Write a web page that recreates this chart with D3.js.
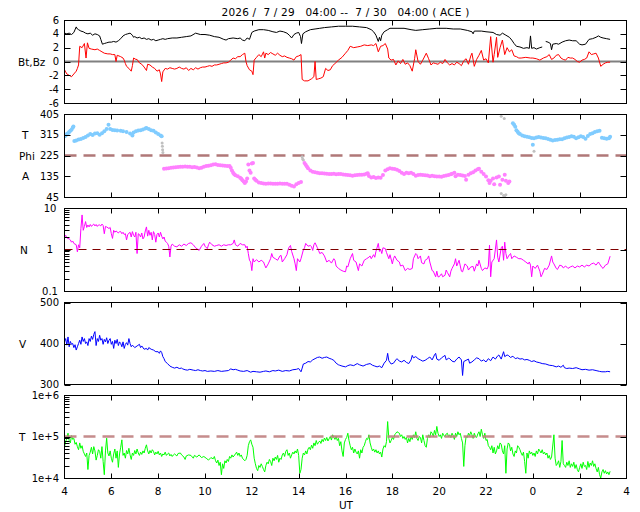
<!DOCTYPE html>
<html><head><meta charset="utf-8">
<script src="https://cdn.jsdelivr.net/npm/d3@7"></script>
<style>
body{margin:0;background:#fff}
text{font-family:"DejaVu Sans",sans-serif;font-size:10.5px;fill:#000}
text.tk{font-size:10px}
</style>
</head><body>
<svg id="c" width="640" height="512"></svg>
<script>
const title = "2026 /  7 / 29   04:00 --  7 / 30   04:00 ( ACE )";
const xTicks = [4,6,8,10,12,14,16,18,20,22,24,26,28];
const bTicks = [-6,-4,-2,0,2,4,6];
const phiTicks = [45,135,225,315,405];
const nTicks = [0.1,1,10];
const vTicks = [300,400,500];
const tTicks = [1e4,1e5,1e6];
const tTickLabels = ["1e+4","1e+5","1e+6"];

const btData = [[4.0,4.1],[4.1,4.0],[4.2,4.1],[4.3,3.9],[4.4,4.2],[4.5,5.0],[4.55,4.7],[4.6,4.6],[4.7,4.4],[4.8,4.3],[4.9,4.1],[5.0,4.0],[5.1,4.1],[5.2,3.8],[5.3,4.0],[5.4,3.9],[5.5,3.7],[5.55,3.2],[5.62,2.5],[5.7,2.6],[5.8,2.7],[5.9,2.8],[6.0,2.8],[6.1,2.9],[6.2,2.8],[6.3,3.0],[6.4,3.3],[6.5,3.7],[6.6,3.9],[6.7,4.0],[6.8,4.1],[6.9,3.8],[6.95,3.5],[7.0,3.6],[7.1,3.4],[7.2,3.5],[7.3,3.3],[7.4,3.4],[7.5,3.2],[7.6,3.3],[7.7,3.1],[7.8,3.2],[7.9,3.0],[8.0,3.1],[8.1,3.2],[8.2,3.3],[8.3,3.2],[8.4,3.3],[8.6,3.4],[8.8,3.4],[9.0,3.5],[9.2,3.6],[9.4,3.7],[9.6,4.1],[9.7,4.0],[9.8,3.9],[10.0,3.9],[10.2,3.8],[10.4,3.6],[10.6,3.5],[10.8,3.2],[10.9,3.1],[11.0,3.3],[11.2,3.4],[11.4,3.3],[11.5,3.4],[11.6,3.1],[11.7,3.0],[11.8,3.4],[11.9,3.2],[12.0,4.2],[12.1,4.4],[12.3,4.6],[12.5,4.6],[12.7,4.5],[12.9,4.3],[13.05,4.2],[13.2,4.4],[13.35,4.3],[13.5,4.1],[13.6,3.8],[13.7,3.4],[13.8,3.9],[13.9,4.1],[14.0,4.2],[14.08,3.6],[14.12,2.6],[14.18,4.0],[14.3,4.3],[14.5,4.6],[14.7,4.7],[14.9,4.8],[15.1,4.9],[15.4,5.0],[15.7,5.1],[16.0,5.1],[16.3,5.1],[16.6,5.0],[16.9,4.9],[17.1,4.6],[17.2,4.3],[17.3,3.8],[17.4,2.9],[17.45,3.5],[17.5,3.0],[17.55,3.8],[17.65,4.3],[17.8,4.6],[17.9,4.8],[18.2,4.8],[18.5,4.8],[18.8,4.6],[19.0,4.5],[19.3,4.6],[19.6,4.7],[19.9,4.8],[20.3,4.8],[20.6,4.7],[20.9,4.7],[21.2,4.5],[21.4,4.3],[21.45,4.0],[21.5,4.4],[21.8,4.4],[22.0,4.3],[22.3,4.2],[22.45,3.9],[22.6,3.8],[22.7,4.1],[22.85,3.8],[23.0,3.5],[23.1,3.1],[23.2,2.6],[23.3,2.2],[23.45,2.1],[23.6,1.9],[23.75,2.0],[23.85,1.9],[23.9,3.7],[23.95,1.9],[24.05,2.0],[24.15,1.8],[24.3,2.0],[24.4,2.1],[24.48,null],[24.55,2.9],[24.65,2.8],[24.75,2.6],[24.8,1.7],[24.85,2.5],[25.0,2.6],[25.1,2.5],[25.25,2.8],[25.4,3.0],[25.55,3.1],[25.7,3.0],[25.85,3.0],[26.0,2.5],[26.1,2.4],[26.25,2.5],[26.4,3.2],[26.55,3.3],[26.7,3.5],[26.8,3.7],[26.9,3.5],[27.0,3.4],[27.15,3.3],[27.3,3.2]];

const bzData = [[4.0,-1.2],[4.05,-1.5],[4.1,-1.8],[4.2,-2.0],[4.3,-2.2],[4.4,-1.8],[4.5,-1.4],[4.55,-1.0],[4.6,-0.5],[4.65,2.2],[4.75,2.0],[4.85,2.6],[4.92,0.5],[4.98,2.7],[5.05,1.9],[5.15,1.8],[5.3,1.7],[5.4,1.8],[5.5,1.6],[5.6,1.4],[5.7,1.2],[5.85,1.1],[5.95,1.1],[6.05,1.0],[6.15,1.0],[6.2,0.0],[6.25,0.9],[6.4,0.7],[6.5,0.5],[6.55,0.2],[6.6,-0.3],[6.65,-0.7],[6.75,-1.0],[6.85,-1.4],[6.9,-0.6],[6.95,0.5],[7.05,0.3],[7.1,0.3],[7.2,-0.2],[7.3,-0.4],[7.4,-0.8],[7.5,-1.3],[7.55,-0.4],[7.65,-0.5],[7.75,-0.8],[7.85,-1.0],[7.95,-1.4],[8.05,-1.2],[8.1,-1.8],[8.15,-2.9],[8.2,-1.5],[8.3,-1.0],[8.4,-1.1],[8.5,-0.9],[8.6,-1.0],[8.7,-1.1],[8.8,-1.0],[8.9,-0.8],[9.0,-1.0],[9.1,-1.1],[9.2,-0.9],[9.3,-1.3],[9.4,-1.0],[9.5,-1.2],[9.6,-0.9],[9.7,-1.1],[9.8,-0.9],[9.9,-0.8],[10.0,-0.8],[10.1,-0.7],[10.2,-0.6],[10.3,-0.7],[10.4,-0.5],[10.5,-0.5],[10.6,-0.4],[10.7,-0.3],[10.8,-0.2],[10.9,-0.2],[11.0,-0.1],[11.1,0.2],[11.2,0.5],[11.3,0.4],[11.4,0.7],[11.5,0.7],[11.6,1.0],[11.7,1.2],[11.75,0.0],[11.8,-0.6],[11.9,-1.2],[12.0,-1.4],[12.05,-1.9],[12.1,0.2],[12.2,0.6],[12.3,1.0],[12.4,0.7],[12.5,1.4],[12.55,0.5],[12.6,1.2],[12.7,1.0],[12.8,1.3],[12.9,1.1],[13.0,0.9],[13.1,1.2],[13.2,0.9],[13.3,0.7],[13.4,0.8],[13.5,0.6],[13.6,0.5],[13.7,0.4],[13.8,0.2],[13.9,0.7],[14.0,0.8],[14.1,1.0],[14.15,-2.6],[14.25,-2.8],[14.4,-2.8],[14.55,-2.5],[14.65,-2.2],[14.7,0.0],[14.75,-2.6],[14.85,-2.5],[14.95,-2.4],[15.05,-2.2],[15.15,-1.0],[15.25,-1.3],[15.35,-1.2],[15.45,-0.6],[15.55,-0.3],[15.7,0.2],[15.85,0.6],[16.0,1.2],[16.1,1.6],[16.2,2.2],[16.35,2.0],[16.5,2.1],[16.65,2.2],[16.8,2.4],[16.95,2.3],[17.1,2.4],[17.2,2.3],[17.3,2.6],[17.4,1.4],[17.5,2.2],[17.6,2.3],[17.7,2.6],[17.8,1.8],[17.85,0.5],[17.95,0.2],[18.05,0.3],[18.15,-0.5],[18.25,0.1],[18.35,-0.3],[18.45,0.3],[18.55,-0.4],[18.65,-0.2],[18.75,-0.6],[18.85,-1.4],[18.95,0.4],[19.0,1.7],[19.1,0.0],[19.2,-0.4],[19.3,0.2],[19.45,1.2],[19.55,0.4],[19.65,-0.5],[19.75,-0.2],[19.85,-0.3],[19.95,-0.4],[20.05,-0.1],[20.15,-0.3],[20.25,0.3],[20.35,-0.2],[20.45,-0.5],[20.55,-0.3],[20.65,-0.5],[20.75,-0.1],[20.85,-0.3],[20.95,-0.6],[21.05,0.1],[21.15,0.4],[21.25,-0.4],[21.35,0.8],[21.4,1.2],[21.5,-0.7],[21.6,0.3],[21.7,0.9],[21.8,1.6],[21.9,0.2],[22.0,0.4],[22.1,-0.2],[22.2,3.6],[22.3,-0.1],[22.35,1.0],[22.45,3.5],[22.5,0.6],[22.6,2.0],[22.7,3.1],[22.8,1.0],[22.9,2.0],[23.0,1.4],[23.1,1.7],[23.2,0.8],[23.3,0.7],[23.4,0.5],[23.5,0.5],[23.7,0.6],[23.9,0.5],[24.0,0.5],[24.15,0.4],[24.3,0.2],[24.45,0.5],[24.6,0.7],[24.7,1.0],[24.8,0.3],[24.9,0.5],[25.0,0.9],[25.1,1.0],[25.2,0.5],[25.3,0.3],[25.4,0.2],[25.5,0.6],[25.6,0.5],[25.7,0.5],[25.8,0.3],[25.9,0.0],[26.0,-0.1],[26.1,0.2],[26.2,0.3],[26.3,0.5],[26.4,1.4],[26.5,1.0],[26.6,1.1],[26.7,1.2],[26.8,0.5],[26.9,-0.7],[27.0,-0.4],[27.1,-0.2],[27.2,-0.1],[27.3,-0.1]];

const phiData = [[4.0,308],[4.05,312],[4.1,318],[4.15,322],[4.2,327],[4.25,332],[4.3,337],[4.35,345],[4.38,351],[4.42,288],[4.5,290],[4.6,294],[4.7,297],[4.8,301],[4.9,305],[5.0,312],[5.1,318],[5.2,314],[5.3,320],[5.4,322],[5.5,315],[5.6,322],[5.7,330],[5.8,340],[5.88,358],[5.95,340],[6.05,336],[6.15,334],[6.25,333],[6.4,332],[6.5,330],[6.65,327],[6.8,320],[6.9,312],[6.95,325],[7.05,330],[7.15,333],[7.25,334],[7.35,338],[7.45,342],[7.5,344],[7.6,340],[7.7,335],[7.8,332],[7.9,325],[8.0,318],[8.1,312],[8.15,308],
[8.25,168],[8.35,169],[8.45,170],[8.55,172],[8.65,173],[8.75,174],[8.85,175],[8.95,176],[9.05,176],[9.15,177],[9.25,176],[9.35,176],[9.45,174],[9.55,175],[9.65,173],[9.75,170],[9.85,172],[9.95,176],[10.05,179],[10.15,181],[10.25,183],[10.35,186],[10.45,187],[10.55,184],[10.65,183],[10.75,182],[10.85,181],[10.95,180],[11.05,180],[11.1,172],[11.15,160],[11.2,150],[11.25,144],[11.3,139],[11.4,135],[11.5,128],[11.55,124],[11.6,118],[11.65,112],[11.7,106],[11.75,112],[11.8,125],[11.85,186],[11.9,160],[11.95,150],[12.0,190],[12.05,193],[12.1,125],[12.15,120],[12.2,115],[12.3,108],[12.4,106],[12.5,104],[12.6,103],[12.7,104],[12.8,104],[12.9,103],[13.0,102],[13.1,103],[13.2,104],[13.3,103],[13.4,103],[13.5,102],[13.6,98],[13.7,94],[13.8,91],[13.9,100],[14.0,106],[14.1,110],
[14.25,193],[14.3,185],[14.35,177],[14.4,170],[14.5,160],[14.6,155],[14.7,152],[14.8,150],[14.9,148],[15.0,148],[15.1,147],[15.2,146],[15.3,145],[15.4,145],[15.5,146],[15.6,144],[15.7,145],[15.8,145],[15.9,143],[16.0,141],[16.1,140],[16.2,139],[16.3,137],[16.4,139],[16.5,140],[16.6,141],[16.7,142],[16.8,143],[16.9,146],[16.95,148],[17.0,136],[17.1,130],[17.2,132],[17.3,127],[17.4,130],[17.5,128],[17.6,140],[17.7,160],[17.8,165],[17.9,170],[18.0,168],[18.1,166],[18.2,163],[18.3,158],[18.4,150],[18.5,145],[18.6,150],[18.7,148],[18.8,150],[18.9,145],[19.0,137],[19.1,140],[19.2,142],[19.3,140],[19.4,139],[19.5,138],[19.6,135],[19.7,137],[19.8,135],[19.9,134],[20.0,134],[20.1,133],[20.2,136],[20.3,138],[20.4,140],[20.5,144],[20.55,146],[20.65,150],[20.7,135],[20.8,142],[20.9,140],[21.0,138],[21.1,136],[21.15,120],[21.25,142],[21.35,148],[21.45,152],[21.55,160],[21.65,165],[21.7,168],[21.8,155],[21.9,145],[22.0,134],[22.1,118],[22.15,106],[22.2,115],[22.3,125],[22.35,100],[22.45,130],[22.55,134],[22.6,98],[22.7,120],[22.8,142],[22.85,115],[22.95,106],[23.0,112],
[23.15,365],[23.2,358],[23.25,350],[23.3,335],[23.35,328],[23.4,322],[23.45,318],[23.55,312],[23.65,308],[23.75,306],[23.85,304],[23.95,301],[24.0,272],[24.05,300],[24.15,303],[24.25,305],[24.35,303],[24.45,301],[24.55,300],[24.65,297],[24.75,293],[24.85,290],[24.95,292],[25.05,293],[25.15,295],[25.25,296],[25.35,300],[25.45,303],[25.55,305],[25.65,308],[25.75,306],[25.85,300],[25.95,304],[26.05,308],[26.15,305],[26.25,298],[26.35,310],[26.45,318],[26.55,322],[26.65,327],[26.75,330],[26.85,332],[26.95,302],[27.05,300],[27.15,298],[27.25,300],[27.3,306]];

const phiGray = [[8.17,279],[8.18,265],[8.19,250],[8.2,238],[14.15,220],[14.17,210],[14.2,205],[22.65,395],[22.78,385],[22.65,60],[22.75,52],[22.8,50],[22.85,55],[24.05,243]];

const nData = [[4.0,2.0],[4.05,2.2],[4.1,1.9],[4.2,1.8],[4.25,1.7],[4.3,1.5],[4.35,1.6],[4.4,1.4],[4.5,1.3],[4.55,0.88],[4.6,1.3],[4.65,1.1],[4.7,3.2],[4.75,6.8],[4.8,2.9],[4.85,3.6],[4.9,4.7],[4.95,3.4],[5.0,3.9],[5.05,3.5],[5.1,4.0],[5.15,3.6],[5.2,3.9],[5.25,4.1],[5.3,3.7],[5.35,4.0],[5.4,3.6],[5.45,3.9],[5.5,3.9],[5.55,3.7],[5.6,4.1],[5.65,3.8],[5.7,2.4],[5.75,3.6],[5.8,3.5],[5.9,3.2],[5.95,3.4],[6.0,2.4],[6.05,1.85],[6.1,2.9],[6.15,2.6],[6.2,2.8],[6.3,2.5],[6.35,2.7],[6.4,2.7],[6.45,2.4],[6.5,2.6],[6.55,2.3],[6.6,2.4],[6.65,1.7],[6.7,2.3],[6.8,2.6],[6.85,2.0],[6.9,2.7],[6.95,2.2],[7.0,2.0],[7.05,2.6],[7.1,0.8],[7.15,2.4],[7.2,2.3],[7.25,2.0],[7.3,2.5],[7.35,1.8],[7.4,2.0],[7.45,2.8],[7.5,3.5],[7.55,2.1],[7.6,2.9],[7.65,2.2],[7.7,2.6],[7.75,1.7],[7.8,2.7],[7.85,2.3],[7.9,1.5],[7.95,2.3],[8.0,2.5],[8.05,2.0],[8.1,2.6],[8.15,2.1],[8.2,1.8],[8.25,2.0],[8.3,1.6],[8.35,1.5],[8.4,1.4],[8.45,1.2],[8.5,0.66],[8.55,1.2],[8.6,1.35],[8.7,1.2],[8.8,1.16],[8.9,1.3],[9.0,1.2],[9.1,1.35],[9.2,1.25],[9.3,1.4],[9.4,1.45],[9.5,1.3],[9.6,1.1],[9.7,1.0],[9.75,0.95],[9.85,1.2],[9.95,1.4],[10.0,1.2],[10.1,1.05],[10.15,1.3],[10.2,1.5],[10.3,1.3],[10.4,1.2],[10.5,1.25],[10.6,1.3],[10.7,1.2],[10.8,1.3],[10.9,1.25],[11.0,1.3],[11.1,1.3],[11.2,1.4],[11.25,1.7],[11.3,1.3],[11.4,1.2],[11.5,1.4],[11.6,1.3],[11.7,1.3],[11.75,1.1],[11.8,1.2],[11.85,0.8],[11.9,0.55],[11.95,0.5],[12.0,0.31],[12.05,0.6],[12.1,0.5],[12.2,0.57],[12.3,0.5],[12.4,0.55],[12.5,0.5],[12.55,0.42],[12.6,0.36],[12.7,0.45],[12.8,0.6],[12.85,0.8],[12.9,0.65],[13.0,0.6],[13.1,0.55],[13.2,0.7],[13.25,0.72],[13.3,0.5],[13.4,0.6],[13.5,0.75],[13.55,1.0],[13.6,1.16],[13.65,1.25],[13.7,0.9],[13.8,0.6],[13.85,0.45],[13.9,0.31],[13.95,0.6],[14.05,0.5],[14.1,0.6],[14.2,0.98],[14.25,1.1],[14.3,1.4],[14.4,1.2],[14.5,1.25],[14.55,1.16],[14.6,0.95],[14.65,1.3],[14.7,1.45],[14.8,1.1],[14.85,0.95],[14.9,0.8],[15.0,0.85],[15.1,0.7],[15.2,0.5],[15.3,0.55],[15.4,0.47],[15.5,0.6],[15.55,0.55],[15.6,0.4],[15.7,0.35],[15.8,0.32],[15.9,0.3],[16.0,0.29],[16.05,0.4],[16.1,0.38],[16.2,0.6],[16.3,0.8],[16.35,0.55],[16.45,0.5],[16.55,0.31],[16.6,0.45],[16.7,0.4],[16.8,0.55],[16.9,0.6],[17.0,0.65],[17.05,0.7],[17.1,0.6],[17.2,0.75],[17.25,0.65],[17.3,0.9],[17.4,1.4],[17.45,0.9],[17.5,1.0],[17.55,0.8],[17.6,1.1],[17.7,1.05],[17.75,0.85],[17.85,0.6],[17.9,0.75],[18.0,0.45],[18.05,0.6],[18.1,0.7],[18.2,0.55],[18.3,0.5],[18.35,0.4],[18.45,0.42],[18.55,0.31],[18.65,0.35],[18.75,0.33],[18.85,0.35],[18.9,0.6],[19.0,0.8],[19.05,0.75],[19.1,0.6],[19.2,0.7],[19.25,0.48],[19.35,0.45],[19.4,0.55],[19.5,0.6],[19.55,0.7],[19.6,0.5],[19.7,0.31],[19.75,0.3],[19.85,0.22],[19.9,0.3],[19.95,0.22],[20.0,0.22],[20.1,0.26],[20.15,0.22],[20.25,0.24],[20.3,0.32],[20.35,0.28],[20.45,0.22],[20.5,0.3],[20.55,0.35],[20.65,0.45],[20.7,0.6],[20.75,0.4],[20.85,0.55],[20.95,0.3],[21.0,0.29],[21.1,0.45],[21.2,0.4],[21.25,0.32],[21.35,0.38],[21.45,0.39],[21.5,0.3],[21.6,0.45],[21.65,0.4],[21.7,0.55],[21.8,0.35],[21.85,0.31],[21.95,0.36],[22.05,0.34],[22.1,0.4],[22.15,1.27],[22.2,0.22],[22.25,0.5],[22.35,0.6],[22.45,1.7],[22.5,0.65],[22.55,0.5],[22.65,1.1],[22.7,1.2],[22.75,0.55],[22.8,1.5],[22.85,0.8],[22.9,0.6],[23.0,0.75],[23.05,0.8],[23.1,0.6],[23.2,0.7],[23.3,0.65],[23.4,0.6],[23.5,0.6],[23.6,0.55],[23.7,0.5],[23.8,0.45],[23.85,0.5],[23.9,0.42],[23.95,0.22],[24.0,0.4],[24.1,0.35],[24.2,0.42],[24.3,0.3],[24.35,0.22],[24.4,0.25],[24.5,0.35],[24.6,0.33],[24.7,0.42],[24.8,0.7],[24.85,0.5],[24.9,0.45],[25.0,0.35],[25.05,0.33],[25.15,0.42],[25.25,0.4],[25.3,0.36],[25.4,0.4],[25.5,0.35],[25.6,0.38],[25.7,0.4],[25.8,0.36],[25.9,0.4],[26.0,0.38],[26.1,0.42],[26.2,0.38],[26.3,0.42],[26.4,0.4],[26.5,0.45],[26.6,0.47],[26.7,0.42],[26.8,0.5],[26.85,0.45],[26.95,0.37],[27.0,0.35],[27.1,0.42],[27.2,0.45],[27.3,0.69]];

const vData = [[4.0,404],[4.05,412],[4.1,396],[4.15,416],[4.2,392],[4.25,405],[4.3,398],[4.35,400],[4.4,390],[4.45,397],[4.5,384],[4.55,392],[4.6,400],[4.65,408],[4.7,398],[4.75,416],[4.8,405],[4.85,412],[4.9,400],[4.95,404],[5.0,395],[5.05,412],[5.1,405],[5.15,418],[5.2,410],[5.25,422],[5.3,429],[5.35,395],[5.4,412],[5.45,405],[5.5,420],[5.55,408],[5.6,412],[5.65,398],[5.7,410],[5.75,404],[5.8,414],[5.85,400],[5.9,408],[5.95,412],[6.0,398],[6.05,405],[6.1,388],[6.15,408],[6.2,400],[6.25,410],[6.3,395],[6.35,404],[6.4,400],[6.45,392],[6.5,404],[6.55,388],[6.6,398],[6.65,402],[6.7,396],[6.75,412],[6.8,400],[6.85,392],[6.9,396],[7.0,390],[7.1,394],[7.2,398],[7.25,390],[7.3,394],[7.4,386],[7.5,388],[7.55,384],[7.6,390],[7.7,386],[7.8,384],[7.9,380],[8.0,380],[8.05,376],[8.1,382],[8.15,378],[8.2,368],[8.25,363],[8.3,356],[8.4,351],[8.5,345],[8.6,342],[8.7,340],[8.8,342],[8.9,339],[9.0,340],[9.05,338],[9.15,336],[9.25,335],[9.35,337],[9.5,335],[9.6,334],[9.7,336],[9.8,334],[9.9,333],[10.0,334],[10.1,332],[10.25,333],[10.4,332],[10.55,334],[10.7,332],[10.85,333],[11.0,334],[11.1,338],[11.2,336],[11.3,337],[11.4,335],[11.5,333],[11.65,332],[11.8,334],[11.95,330],[12.05,332],[12.2,331],[12.35,330],[12.5,332],[12.6,333],[12.75,331],[12.9,334],[13.0,333],[13.15,335],[13.3,332],[13.45,334],[13.6,333],[13.75,336],[13.9,337],[14.0,339],[14.05,335],[14.1,331],[14.15,340],[14.2,350],[14.3,352],[14.4,356],[14.5,355],[14.6,360],[14.7,363],[14.8,366],[14.9,367],[15.0,364],[15.1,366],[15.2,367],[15.3,364],[15.4,362],[15.5,359],[15.6,352],[15.7,348],[15.75,347],[15.85,345],[16.0,343],[16.1,346],[16.2,348],[16.35,346],[16.5,351],[16.6,348],[16.75,345],[16.9,349],[17.05,351],[17.15,347],[17.25,345],[17.35,343],[17.45,345],[17.55,341],[17.65,352],[17.75,359],[17.8,376],[17.85,358],[17.95,350],[18.05,352],[18.15,360],[18.2,363],[18.3,357],[18.4,355],[18.5,359],[18.6,354],[18.7,351],[18.8,360],[18.85,371],[18.9,365],[19.0,368],[19.1,363],[19.2,360],[19.3,357],[19.4,359],[19.5,363],[19.6,367],[19.7,360],[19.8,372],[19.85,376],[19.9,362],[20.0,359],[20.1,365],[20.2,369],[20.25,371],[20.3,360],[20.4,364],[20.45,363],[20.55,357],[20.65,355],[20.75,362],[20.85,367],[20.95,360],[21.0,322],[21.05,356],[21.15,359],[21.25,362],[21.3,352],[21.4,355],[21.5,360],[21.6,365],[21.7,363],[21.8,357],[21.9,360],[22.0,355],[22.1,363],[22.2,358],[22.3,367],[22.4,362],[22.5,370],[22.55,372],[22.65,362],[22.75,380],[22.8,368],[22.9,372],[22.95,371],[23.05,366],[23.15,369],[23.25,363],[23.35,365],[23.45,362],[23.55,363],[23.65,360],[23.75,361],[23.85,359],[23.95,356],[24.05,358],[24.15,355],[24.3,353],[24.4,351],[24.55,350],[24.7,347],[24.85,346],[25.0,343],[25.1,345],[25.2,342],[25.3,347],[25.35,341],[25.45,339],[25.55,340],[25.7,339],[25.85,341],[26.0,338],[26.1,336],[26.25,337],[26.4,335],[26.55,336],[26.7,334],[26.85,332],[26.95,331],[27.1,331],[27.2,332],[27.3,331]];

const tData = [[4.0,57000],[4.05,75000],[4.1,91000],[4.15,120000],[4.2,80000],[4.25,70000],[4.3,105000],[4.35,85000],[4.4,90000],[4.45,65000],[4.5,72000],[4.55,57000],[4.6,48000],[4.65,70000],[4.7,52000],[4.75,60000],[4.8,44000],[4.85,38000],[4.9,33000],[4.95,40000],[5.0,16000],[5.05,35000],[5.1,42000],[5.15,55000],[5.2,38000],[5.25,57000],[5.3,45000],[5.35,27000],[5.4,35000],[5.45,48000],[5.5,44000],[5.55,30000],[5.6,57000],[5.65,25000],[5.7,12000],[5.75,45000],[5.8,91000],[5.85,40000],[5.9,34000],[5.95,45000],[6.0,30000],[6.05,24000],[6.1,38000],[6.15,50000],[6.2,30000],[6.25,45000],[6.3,18000],[6.35,38000],[6.4,55000],[6.45,83000],[6.5,35000],[6.55,40000],[6.6,30000],[6.65,46000],[6.7,38000],[6.75,52000],[6.8,36000],[6.85,28000],[6.9,40000],[6.95,35000],[7.0,46000],[7.05,38000],[7.1,50000],[7.15,40000],[7.2,35000],[7.25,42000],[7.3,37000],[7.35,45000],[7.4,40000],[7.45,52000],[7.5,63000],[7.55,45000],[7.6,38000],[7.65,46000],[7.7,40000],[7.75,48000],[7.8,44000],[7.85,36000],[7.9,42000],[7.95,38000],[8.0,44000],[8.05,36000],[8.1,40000],[8.15,33000],[8.2,38000],[8.25,36000],[8.3,42000],[8.35,35000],[8.4,38000],[8.45,40000],[8.5,34000],[8.55,37000],[8.6,33000],[8.65,36000],[8.7,38000],[8.8,34000],[8.85,39000],[8.95,40000],[9.0,36000],[9.1,32000],[9.15,28000],[9.2,34000],[9.3,36000],[9.4,35000],[9.5,30000],[9.55,35000],[9.65,32000],[9.75,36000],[9.85,31000],[9.95,33000],[10.05,30000],[10.15,27000],[10.25,31000],[10.35,29000],[10.4,33000],[10.45,26000],[10.5,23000],[10.55,27000],[10.6,20000],[10.65,24000],[10.7,12000],[10.75,22000],[10.8,17000],[10.85,26000],[10.9,23000],[10.95,28000],[11.0,25000],[11.05,33000],[11.1,30000],[11.15,36000],[11.2,32000],[11.3,38000],[11.35,42000],[11.4,35000],[11.45,40000],[11.5,33000],[11.55,36000],[11.6,30000],[11.7,26000],[11.75,28000],[11.8,35000],[11.85,60000],[11.9,75000],[11.95,83000],[12.0,65000],[12.05,55000],[12.1,30000],[12.15,22000],[12.2,17000],[12.25,15000],[12.3,20000],[12.35,18000],[12.4,22000],[12.45,19000],[12.5,16000],[12.55,14000],[12.6,20000],[12.65,24000],[12.7,22000],[12.75,28000],[12.8,25000],[12.85,20000],[12.9,30000],[12.95,26000],[13.0,32000],[13.05,28000],[13.1,35000],[13.15,24000],[13.2,30000],[13.25,28000],[13.3,36000],[13.35,40000],[13.4,33000],[13.45,44000],[13.5,48000],[13.55,35000],[13.6,40000],[13.65,30000],[13.7,36000],[13.75,42000],[13.8,38000],[13.85,45000],[13.9,40000],[13.95,50000],[14.0,35000],[14.05,13000],[14.1,16000],[14.15,30000],[14.2,40000],[14.25,36000],[14.3,45000],[14.35,38000],[14.4,50000],[14.45,55000],[14.5,48000],[14.55,62000],[14.6,52000],[14.65,70000],[14.7,60000],[14.75,80000],[14.8,65000],[14.85,72000],[14.9,78000],[14.95,68000],[15.0,85000],[15.05,75000],[15.1,92000],[15.15,80000],[15.2,95000],[15.25,78000],[15.3,88000],[15.35,100000],[15.4,82000],[15.45,110000],[15.5,95000],[15.55,85000],[15.6,100000],[15.65,80000],[15.7,90000],[15.75,60000],[15.8,75000],[15.85,45000],[15.9,33000],[15.95,70000],[16.0,85000],[16.05,95000],[16.1,120000],[16.15,80000],[16.2,60000],[16.25,48000],[16.3,55000],[16.35,40000],[16.4,50000],[16.45,42000],[16.5,38000],[16.55,45000],[16.6,30000],[16.65,48000],[16.7,40000],[16.75,55000],[16.8,60000],[16.85,75000],[16.9,90000],[16.95,85000],[17.0,110000],[17.05,70000],[17.1,55000],[17.15,45000],[17.2,50000],[17.25,42000],[17.3,48000],[17.35,40000],[17.4,45000],[17.45,38000],[17.5,42000],[17.55,32000],[17.6,50000],[17.65,60000],[17.7,55000],[17.75,75000],[17.8,229000],[17.85,90000],[17.9,70000],[17.95,80000],[18.0,95000],[18.05,85000],[18.1,110000],[18.15,120000],[18.2,130000],[18.25,125000],[18.3,120000],[18.35,100000],[18.4,110000],[18.45,90000],[18.5,100000],[18.55,85000],[18.6,95000],[18.65,70000],[18.7,90000],[18.75,75000],[18.8,100000],[18.85,85000],[18.9,110000],[18.95,95000],[19.0,130000],[19.05,90000],[19.1,80000],[19.15,100000],[19.2,95000],[19.25,70000],[19.3,110000],[19.35,80000],[19.4,60000],[19.45,55000],[19.5,90000],[19.55,110000],[19.6,95000],[19.65,130000],[19.7,120000],[19.75,100000],[19.8,140000],[19.85,110000],[19.9,175000],[19.95,120000],[20.0,100000],[20.05,110000],[20.1,90000],[20.15,120000],[20.2,105000],[20.25,100000],[20.3,115000],[20.35,120000],[20.4,100000],[20.45,110000],[20.5,95000],[20.55,120000],[20.6,105000],[20.65,85000],[20.7,120000],[20.75,100000],[20.8,130000],[20.85,110000],[20.9,120000],[20.95,90000],[21.0,70000],[21.05,19000],[21.1,60000],[21.15,100000],[21.2,95000],[21.25,120000],[21.3,105000],[21.35,130000],[21.4,110000],[21.45,90000],[21.5,120000],[21.55,100000],[21.6,95000],[21.65,115000],[21.7,130000],[21.75,100000],[21.8,150000],[21.85,110000],[21.9,90000],[21.95,120000],[22.0,80000],[22.05,85000],[22.1,60000],[22.15,55000],[22.2,48000],[22.25,60000],[22.3,40000],[22.35,55000],[22.4,38000],[22.45,45000],[22.5,60000],[22.55,50000],[22.6,70000],[22.65,65000],[22.7,45000],[22.75,38000],[22.8,60000],[22.85,13000],[22.9,50000],[22.95,70000],[23.0,65000],[23.05,45000],[23.1,55000],[23.15,38000],[23.2,33000],[23.25,45000],[23.3,40000],[23.35,60000],[23.4,55000],[23.45,48000],[23.5,40000],[23.55,35000],[23.6,42000],[23.65,25000],[23.7,13000],[23.75,40000],[23.8,30000],[23.85,45000],[23.9,38000],[23.95,42000],[24.0,35000],[24.05,40000],[24.1,33000],[24.15,45000],[24.2,38000],[24.25,50000],[24.3,45000],[24.35,40000],[24.4,48000],[24.45,38000],[24.5,42000],[24.55,36000],[24.6,40000],[24.65,30000],[24.7,35000],[24.75,28000],[24.8,32000],[24.9,110000],[24.95,30000],[25.0,20000],[25.05,22000],[25.1,26000],[25.15,18000],[25.2,25000],[25.25,80000],[25.3,22000],[25.35,20000],[25.4,18000],[25.45,24000],[25.5,20000],[25.55,26000],[25.6,18000],[25.65,22000],[25.7,19000],[25.75,24000],[25.8,17000],[25.85,21000],[25.9,16000],[25.95,14000],[26.0,18000],[26.05,22000],[26.1,17000],[26.15,24000],[26.2,19000],[26.25,20000],[26.3,16000],[26.35,25000],[26.4,18000],[26.45,23000],[26.5,20000],[26.55,26000],[26.6,19000],[26.65,22000],[26.7,17000],[26.75,14000],[26.8,18000],[26.85,12000],[26.9,10000],[26.95,14000],[27.0,16000],[27.05,13000],[27.1,15000],[27.15,12500],[27.2,14000],[27.25,12000],[27.3,14500]];

// ---------- drawing ----------
const svg = d3.select("#c");
const L = 64.5, R = 626.5;
const x = d3.scaleLinear().domain([4, 28]).range([L, R]);

svg.append("text").attr("x", (L + R) / 2).attr("y", 16).attr("text-anchor", "middle")
  .style("white-space", "pre").style("letter-spacing", "0.2px").attr("font-size", "11px").text(title);

function makePanel(id, top, bottom, y, ticks, labels, opt) {
  const g = svg.append("g");
  const cp = svg.append("clipPath").attr("id", "clip" + id);
  cp.append("rect").attr("x", L).attr("y", top).attr("width", R - L).attr("height", bottom - top);
  const data = g.append("g").attr("clip-path", `url(#clip${id})`);
  const ax = g.append("g");
  ax.append("rect").attr("x", L).attr("y", top).attr("width", R - L).attr("height", bottom - top)
    .attr("fill", "none").attr("stroke", "#000").attr("stroke-width", 1);
  xTicks.slice(1, -1).forEach(t => {
    const xp = Math.round(x(t)) + 0.5;
    ax.append("line").attr("x1", xp).attr("x2", xp).attr("y1", top).attr("y2", top + 5).attr("stroke", "#000");
    ax.append("line").attr("x1", xp).attr("x2", xp).attr("y1", bottom).attr("y2", bottom - 5).attr("stroke", "#000");
  });
  ticks.forEach((t, i) => {
    const yp = Math.round(y(t)) + 0.5;
    ax.append("line").attr("x1", L).attr("x2", L + 6).attr("y1", yp).attr("y2", yp).attr("stroke", "#000");
    ax.append("line").attr("x1", R).attr("x2", R - 6).attr("y1", yp).attr("y2", yp).attr("stroke", "#000");
    svg.append("text").attr("class", "tk").attr("x", opt.labelX || 59).attr("y", y(t) + 3.6)
      .attr("text-anchor", opt.anchor || "end").text(labels[i]);
  });
  if (opt.minor) {
    opt.minor.forEach(t => {
      const yp = Math.round(y(t)) + 0.5;
      ax.append("line").attr("x1", L).attr("x2", L + 5).attr("y1", yp).attr("y2", yp).attr("stroke", "#000");
    });
  }
  return { data, ax };
}

function logMinor(lo, hi) {
  const out = [];
  for (let d = lo; d < hi; d *= 10) for (let k = 2; k <= 9; k++) out.push(d * k);
  return out;
}

const line = (y) => d3.line().defined(d => d[1] != null).x(d => x(d[0])).y(d => y(d[1]));

// Panel 1: Bt, Bz
const y1 = d3.scaleLinear().domain([-6, 6]).range([103, 20]);
const p1 = makePanel(1, 20.5, 103.5, y1, bTicks, bTicks.map(String), {});
p1.data.append("line").attr("x1", L).attr("x2", R).attr("y1", y1(0)).attr("y2", y1(0))
  .attr("stroke", "#808080").attr("stroke-width", 2);
p1.data.append("path").datum(btData).attr("d", line(y1)).attr("fill", "none").attr("stroke", "#000").attr("stroke-width", 1);
p1.data.append("path").datum(bzData).attr("d", line(y1)).attr("fill", "none").attr("stroke", "#ff0000").attr("stroke-width", 1);
svg.append("text").attr("x", 18).attr("y", y1(0) + 4).text("Bt,Bz");

// Panel 2: Phi
const y2 = d3.scaleLinear().domain([45, 405]).range([197, 114]);
const p2 = makePanel(2, 114.5, 197.5, y2, phiTicks, phiTicks.map(String), {});
p2.data.append("line").attr("x1", L).attr("x2", R).attr("y1", y2(225)).attr("y2", y2(225))
  .attr("stroke", "#b07878").attr("stroke-width", 2.5).attr("stroke-dasharray", "12,7");
p2.data.selectAll("circle.g").data(phiGray).join("circle")
  .attr("cx", d => x(d[0])).attr("cy", d => y2(d[1])).attr("r", 1.5).attr("fill", "#c0c0c0");
p2.data.selectAll("circle.p").data(phiData).join("circle").attr("class", "p")
  .attr("cx", d => x(d[0])).attr("cy", d => y2(d[1])).attr("r", 2)
  .attr("fill", d => d[1] >= 225 ? "#80ccff" : "#ff80ff");
svg.append("text").attr("x", 22).attr("y", y2(315) + 4).text("T");
svg.append("text").attr("x", 19).attr("y", y2(225) + 4).text("Phi");
svg.append("text").attr("x", 22).attr("y", y2(135) + 4).text("A");

// Panel 3: N
const y3 = d3.scaleLog().domain([0.1, 10]).range([291, 208]);
const p3 = makePanel(3, 208.5, 291.5, y3, nTicks, ["0.1", "1", "10"], { minor: logMinor(0.1, 10), labelX: 50, anchor: "middle" });
p3.data.append("path").datum(nData).attr("d", line(y3)).attr("fill", "none").attr("stroke", "#ff00ff").attr("stroke-width", 1);
p3.data.append("line").attr("x1", L).attr("x2", R).attr("y1", y3(1)).attr("y2", y3(1))
  .attr("stroke", "#800000").attr("stroke-width", 1.2).attr("stroke-dasharray", "8,6");
svg.append("text").attr("x", 20).attr("y", y3(1) + 4).text("N");

// Panel 4: V
const y4 = d3.scaleLinear().domain([300, 500]).range([384.5, 302.5]);
const p4 = makePanel(4, 302.5, 384.5, y4, vTicks, vTicks.map(String), {});
p4.data.append("path").datum(vData).attr("d", line(y4)).attr("fill", "none").attr("stroke", "#0000ff").attr("stroke-width", 1);
svg.append("text").attr("x", 19).attr("y", y4(400) + 4).text("V");

// Panel 5: T
const y5 = d3.scaleLog().domain([1e4, 1e6]).range([478, 395]);
const p5 = makePanel(5, 395.5, 478.5, y5, tTicks, tTickLabels, { minor: logMinor(1e4, 1e6) });
p5.data.append("path").datum(tData).attr("d", line(y5)).attr("fill", "none").attr("stroke", "#00ff00").attr("stroke-width", 1);
p5.data.append("line").attr("x1", L).attr("x2", R).attr("y1", y5(1e5)).attr("y2", y5(1e5))
  .attr("stroke", "#c08080").attr("stroke-width", 2.5).attr("stroke-dasharray", "12,7").attr("opacity", 0.9);
svg.append("text").attr("x", 19).attr("y", y5(1e5) + 4).text("T");

// x labels
xTicks.forEach(t => {
  svg.append("text").attr("x", x(t)).attr("y", 495).attr("text-anchor", "middle").text(String(t % 24));
});
svg.append("text").attr("x", 346).attr("y", 509).attr("text-anchor", "middle").text("UT");
</script>
</body></html>
